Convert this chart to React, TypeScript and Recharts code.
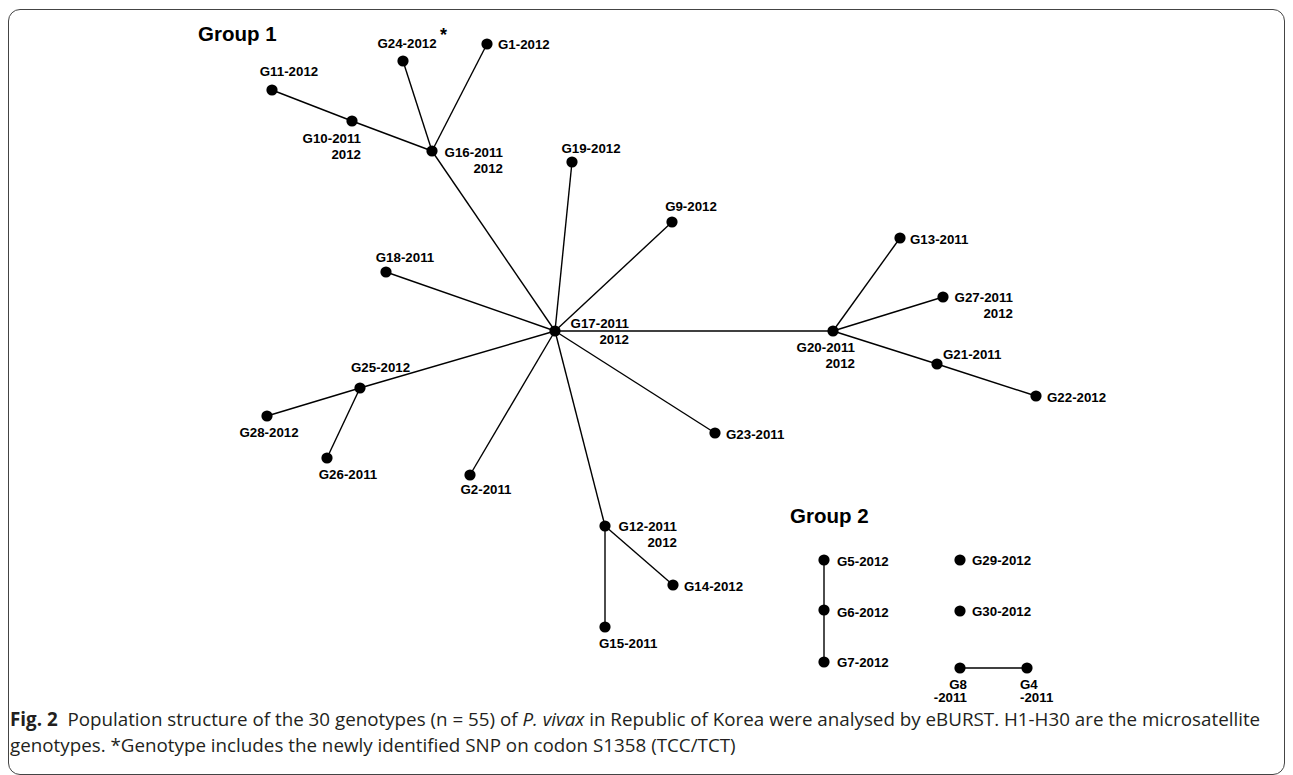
import React from 'react';
import { ScatterChart, Scatter, XAxis, YAxis } from 'recharts';

// eBURST genotype nodes, positions (layout units)
const nodeIds = [
  'G1', 'G24', 'G11', 'G10', 'G16', 'G19', 'G9', 'G18', 'G17', 'G13',
  'G27', 'G20', 'G21', 'G22', 'G25', 'G28', 'G26', 'G2', 'G23', 'G12',
  'G14', 'G15', 'G5', 'G6', 'G7', 'G29', 'G30', 'G8', 'G4',
];
const nodeX = [
  487, 403, 272, 352, 432, 572, 672, 386, 555, 900,
  943, 833, 937, 1036, 360, 267, 327, 470, 715, 605,
  673, 605, 824, 824, 824, 960, 960, 960, 1027,
];
const nodeY = [
  44, 61, 90, 121, 151, 162, 222, 272, 331, 238,
  297, 331, 364, 396, 388, 416, 458, 475, 433, 526,
  585, 627, 560, 610, 662, 560, 611, 668, 668,
];
const nodeLabels = [
  ['G1-2012'], ['G24-2012'], ['G11-2012'], ['G10-2011', '2012'], ['G16-2011', '2012'],
  ['G19-2012'], ['G9-2012'], ['G18-2011'], ['G17-2011', '2012'], ['G13-2011'],
  ['G27-2011', '2012'], ['G20-2011', '2012'], ['G21-2011'], ['G22-2012'], ['G25-2012'],
  ['G28-2012'], ['G26-2011'], ['G2-2011'], ['G23-2011'], ['G12-2011', '2012'],
  ['G14-2012'], ['G15-2011'], ['G5-2012'], ['G6-2012'], ['G7-2012'],
  ['G29-2012'], ['G30-2012'], ['G8', '-2011'], ['G4', '-2011'],
];
// genotypes carrying the new SNP on codon S1358
const snpNodes = ['G24'];

const edges = [
  ['G11', 'G10'], ['G10', 'G16'], ['G24', 'G16'], ['G1', 'G16'], ['G16', 'G17'],
  ['G19', 'G17'], ['G9', 'G17'], ['G18', 'G17'], ['G17', 'G20'], ['G20', 'G13'],
  ['G20', 'G27'], ['G20', 'G21'], ['G21', 'G22'], ['G17', 'G25'], ['G25', 'G28'],
  ['G25', 'G26'], ['G17', 'G2'], ['G17', 'G23'], ['G17', 'G12'], ['G12', 'G14'],
  ['G12', 'G15'], ['G5', 'G6'], ['G6', 'G7'], ['G8', 'G4'],
];

const nodes = nodeIds.map((id, i) => ({ id, x: nodeX[i], y: nodeY[i], lines: nodeLabels[i] }));
const byId: Record<string, any> = {};
nodes.forEach((n) => (byId[n.id] = n));

// label offset from dot: dx, dy (first line centre), anchor, line gap
const labelPos: Record<string, [number, number, string, number?]> = {
  G1: [11, 0, 'start'],
  G24: [4, -18, 'middle'],
  G11: [17, -19, 'middle'],
  G10: [9, 17, 'end'],
  G16: [71, 1, 'end'],
  G19: [19, -14, 'middle'],
  G9: [19, -16, 'middle'],
  G18: [19, -15, 'middle'],
  G17: [74, -8, 'end'],
  G13: [10, 1, 'start'],
  G27: [70, 0, 'end'],
  G20: [22, 16, 'end'],
  G21: [6, -10, 'start'],
  G22: [11, 1, 'start'],
  G25: [-9, -21, 'start'],
  G28: [2, 16, 'middle'],
  G26: [21, 16, 'middle'],
  G2: [16, 14, 'middle'],
  G23: [11, 1, 'start'],
  G12: [72, 0, 'end'],
  G14: [11, 1, 'start'],
  G15: [-6, 16, 'start'],
  G5: [13, 1, 'start'],
  G6: [13, 2, 'start'],
  G7: [13, 0, 'start'],
  G29: [12, 0, 'start'],
  G30: [12, 0, 'start'],
  G8: [7, 16, 'end', 13],
  G4: [-7, 16, 'start', 13],
};

const LABEL_FONT = 13.3;
const FONT = "'Liberation Sans', Arial, sans-serif";

const NodeShape = (props: any) => {
  const { cx, cy, payload } = props;
  const [dx, dy, anchor, gap] = labelPos[payload.id] || [10, 0, 'start'];
  const base = cy + dy + LABEL_FONT * 0.36;
  return (
    <g>
      <circle cx={cx} cy={cy} r={5.6} fill="#000" />
      <text x={cx + dx} y={base} textAnchor={anchor as any} fontFamily={FONT} fontWeight="bold" fontSize={LABEL_FONT} fill="#000">
        {payload.lines.map((ln: string, i: number) => (
          <tspan key={i} x={cx + dx} dy={i === 0 ? 0 : gap || 16}>
            {ln}
          </tspan>
        ))}
      </text>
      {snpNodes.includes(payload.id) && (
        <text x={cx + dx + 33} y={base - 7} fontFamily={FONT} fontWeight="bold" fontSize={18} fill="#000">
          *
        </text>
      )}
    </g>
  );
};

const groupStyle: React.CSSProperties = {
  position: 'absolute',
  fontFamily: FONT,
  fontWeight: 'bold',
  fontSize: 20.5,
  lineHeight: '24px',
  color: '#000',
};

const captionStyle: React.CSSProperties = {
  position: 'absolute',
  left: 10,
  fontFamily: "'Open Sans', 'Noto Sans', sans-serif",
  fontSize: 18.8,
  lineHeight: '18px',
  color: '#231f20',
  whiteSpace: 'nowrap',
};

const App: React.FC = () => {
  return (
    <div style={{ position: 'absolute', left: 0, top: 0, width: 1293, height: 775, background: '#fff', overflow: 'hidden' }}>
      <div
        style={{
          position: 'absolute',
          left: 8,
          top: 9,
          width: 1275,
          height: 764,
          border: '1.5px solid #444',
          borderRadius: 12,
        }}
      />
      <div style={{ position: 'absolute', left: 0, top: 0 }}>
        <ScatterChart width={1293} height={775} margin={{ top: 0, right: 0, bottom: 0, left: 0 }}>
          <XAxis type="number" dataKey="x" domain={[0, 1293]} hide />
          <YAxis type="number" dataKey="y" domain={[0, 775]} reversed hide />
          {edges.map(([a, b], i) => (
            <Scatter
              key={'e' + i}
              data={[byId[a], byId[b]]}
              line={{ stroke: '#000', strokeWidth: 1.4 }}
              shape={() => <g />}
              isAnimationActive={false}
            />
          ))}
          <Scatter data={nodes} shape={NodeShape} isAnimationActive={false} />
        </ScatterChart>
      </div>
      <div style={{ ...groupStyle, left: 198, top: 22 }}>Group 1</div>
      <div style={{ ...groupStyle, left: 790, top: 504 }}>Group 2</div>
      <div style={{ ...captionStyle, top: 710 }}>
        <b>Fig. 2</b>&nbsp; Population structure of the 30 genotypes (n = 55) of <i>P. vivax</i> in Republic of Korea were analysed by eBURST. H1-H30 are the microsatellite
      </div>
      <div style={{ ...captionStyle, top: 736 }}>
        genotypes. *Genotype includes the newly identified SNP on codon S1358 (TCC/TCT)
      </div>
    </div>
  );
};

export default App;
